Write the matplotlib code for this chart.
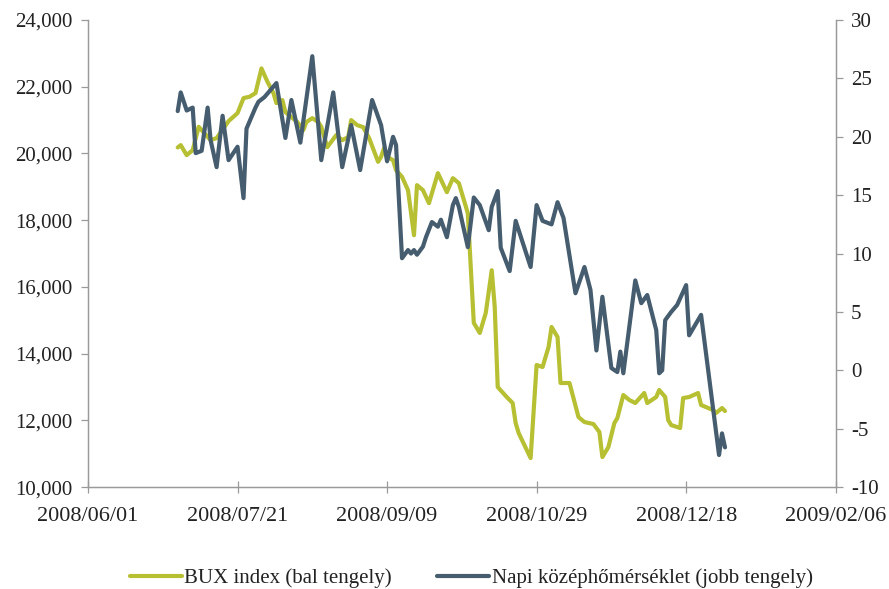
import matplotlib
matplotlib.use("Agg")
import matplotlib.pyplot as plt
import matplotlib.ticker as mticker
from datetime import datetime

# BUX index (left axis)
bux_dates = [
    "2008-07-01", "2008-07-02", "2008-07-04", "2008-07-06", "2008-07-08", "2008-07-12",
    "2008-07-14", "2008-07-18", "2008-07-21", "2008-07-23", "2008-07-25", "2008-07-27",
    "2008-07-29", "2008-07-31", "2008-08-02", "2008-08-03", "2008-08-05", "2008-08-06",
    "2008-08-08", "2008-08-10", "2008-08-12", "2008-08-13", "2008-08-15", "2008-08-17",
    "2008-08-18", "2008-08-20", "2008-08-21", "2008-08-23", "2008-08-25", "2008-08-27",
    "2008-08-28", "2008-08-30", "2008-09-01", "2008-09-03", "2008-09-06", "2008-09-07",
    "2008-09-08", "2008-09-09", "2008-09-11", "2008-09-12", "2008-09-14", "2008-09-16",
    "2008-09-18", "2008-09-19", "2008-09-21", "2008-09-23", "2008-09-26", "2008-09-29",
    "2008-10-01", "2008-10-03", "2008-10-04", "2008-10-06", "2008-10-08", "2008-10-10",
    "2008-10-12", "2008-10-14", "2008-10-15", "2008-10-16", "2008-10-19", "2008-10-21",
    "2008-10-22", "2008-10-23", "2008-10-27", "2008-10-29", "2008-10-31", "2008-11-02",
    "2008-11-03", "2008-11-05", "2008-11-06", "2008-11-09", "2008-11-12", "2008-11-14",
    "2008-11-17", "2008-11-19", "2008-11-20", "2008-11-22", "2008-11-24", "2008-11-25",
    "2008-11-27", "2008-11-29", "2008-12-01", "2008-12-04", "2008-12-05", "2008-12-08",
    "2008-12-09", "2008-12-11", "2008-12-12", "2008-12-13", "2008-12-16", "2008-12-17",
    "2008-12-19", "2008-12-22", "2008-12-23", "2008-12-27", "2008-12-28", "2008-12-30",
    "2008-12-31",
]
bux_values = [
    20180, 20250, 19950, 20100, 20800, 20400,
    20460, 20970, 21210, 21660, 21700, 21810,
    22550, 22150, 21810, 21510, 21600, 21240,
    21090, 20940, 20700, 20940, 21060, 20940,
    20800, 20190, 20310, 20550, 20400, 20490,
    21000, 20850, 20790, 20460, 19750, 19900,
    20160, 19900, 19800, 19500, 19300, 18900,
    17550, 19050, 18900, 18510, 19410, 18840,
    19260, 19110, 18810, 18210, 14920, 14620,
    15220, 16500, 15400, 13000, 12700, 12520,
    11920, 11620, 10870, 13660, 13600, 14200,
    14800, 14500, 13120, 13120, 12100, 11950,
    11890, 11650, 10900, 11200, 11920, 12070,
    12760, 12610, 12520, 12820, 12520, 12700,
    12910, 12700, 12010, 11860, 11770, 12670,
    12700, 12820, 12460, 12310, 12220, 12370,
    12280,
]

# Daily mean temperature (right axis)
temp_dates = [
    "2008-07-01", "2008-07-02", "2008-07-04", "2008-07-06", "2008-07-07", "2008-07-09",
    "2008-07-11", "2008-07-12", "2008-07-14", "2008-07-16", "2008-07-18", "2008-07-21",
    "2008-07-23", "2008-07-24", "2008-07-27", "2008-07-28", "2008-07-30", "2008-08-01",
    "2008-08-03", "2008-08-06", "2008-08-08", "2008-08-11", "2008-08-15", "2008-08-18",
    "2008-08-22", "2008-08-25", "2008-08-28", "2008-08-31", "2008-09-04", "2008-09-07",
    "2008-09-09", "2008-09-11", "2008-09-12", "2008-09-14", "2008-09-16", "2008-09-17",
    "2008-09-18", "2008-09-19", "2008-09-21", "2008-09-22", "2008-09-24", "2008-09-26",
    "2008-09-27", "2008-09-29", "2008-10-01", "2008-10-02", "2008-10-03", "2008-10-06",
    "2008-10-08", "2008-10-10", "2008-10-13", "2008-10-14", "2008-10-16", "2008-10-17",
    "2008-10-20", "2008-10-22", "2008-10-27", "2008-10-29", "2008-10-31", "2008-11-03",
    "2008-11-05", "2008-11-07", "2008-11-11", "2008-11-14", "2008-11-16", "2008-11-18",
    "2008-11-20", "2008-11-23", "2008-11-25", "2008-11-26", "2008-11-27", "2008-12-01",
    "2008-12-03", "2008-12-05", "2008-12-08", "2008-12-09", "2008-12-10", "2008-12-11",
    "2008-12-13", "2008-12-15", "2008-12-18", "2008-12-19", "2008-12-23", "2008-12-29",
    "2008-12-30", "2008-12-31",
]
temp_values = [
    22.2, 23.8, 22.25, 22.5, 18.6, 18.8,
    22.5, 19.7, 17.4, 21.8, 18.0, 19.15,
    14.75, 20.7, 22.5, 23.0, 23.4, 24.0,
    24.6, 19.9, 23.15, 19.5, 26.9, 18.0,
    23.8, 17.4, 21.0, 17.15, 23.15, 21.0,
    17.9, 20.0, 19.3, 9.6, 10.3, 10.0,
    10.3, 9.9, 10.6, 11.4, 12.7, 12.3,
    12.9, 11.4, 14.15, 14.75, 14.0, 10.55,
    14.8, 14.15, 12.0, 14.0, 15.35, 10.5,
    8.5, 12.8, 8.85, 14.15, 12.8, 12.5,
    14.4, 13.05, 6.6, 8.85, 6.9, 1.7,
    6.3, 0.2, -0.15, 1.6, -0.25, 7.7,
    5.75, 6.45, 3.45, -0.25, 0.0, 4.3,
    5.0, 5.6, 7.3, 3.0, 4.75, -7.25,
    -5.4, -6.6,
]

x_tick_labels = ["2008/06/01", "2008/07/21", "2008/09/09", "2008/10/29", "2008/12/18", "2009/02/06"]
left_ticks = [10000, 12000, 14000, 16000, 18000, 20000, 22000, 24000]
right_ticks = [-10, -5, 0, 5, 10, 15, 20, 25, 30]

GREEN = "#b7c032"
SLATE = "#465d6f"
TEXT = "#222222"
AXIS = "#9a9a9a"

plt.rcParams["font.family"] = ["Liberation Serif", "DejaVu Serif"]
plt.rcParams["axes.unicode_minus"] = False

fig = plt.figure(figsize=(8.89, 5.89), dpi=100)
ax = fig.add_axes([0.099, 0.173, 0.841, 0.793])
ax2 = ax.twinx()

bx = [datetime.strptime(d, "%Y-%m-%d") for d in bux_dates]
tx = [datetime.strptime(d, "%Y-%m-%d") for d in temp_dates]

l1, = ax.plot(bx, bux_values, color=GREEN, lw=3.0, solid_joinstyle="round",
              solid_capstyle="round", label="BUX index (bal tengely)", zorder=2)
l2, = ax2.plot(tx, temp_values, color=SLATE, lw=3.0, solid_joinstyle="round",
               solid_capstyle="round", label="Napi középhőmérséklet (jobb tengely)", zorder=3)

xt = [datetime.strptime(s, "%Y/%m/%d") for s in x_tick_labels]
ax.set_xlim(xt[0], xt[-1])
ax.set_xticks(xt)
ax.set_xticklabels(x_tick_labels)

ax.set_ylim(left_ticks[0], left_ticks[-1])
ax.set_yticks(left_ticks)
ax.yaxis.set_major_formatter(mticker.FuncFormatter(lambda v, p: f"{int(v):,}"))
ax2.set_ylim(right_ticks[0], right_ticks[-1])
ax2.set_yticks(right_ticks)
ax2.yaxis.set_major_formatter(mticker.FuncFormatter(lambda v, p: f"{int(v)}"))

for a in (ax, ax2):
    a.spines["top"].set_visible(False)
    for s in ("left", "right", "bottom"):
        a.spines[s].set_color(AXIS)
        a.spines[s].set_linewidth(0.9)
    a.tick_params(colors=AXIS, labelcolor=TEXT, labelsize=15, length=5, width=0.9)

ax.tick_params(axis="x", direction="inout", length=8, pad=10, labelsize=16)
ax.tick_params(axis="y", direction="out", pad=6)
ax2.tick_params(axis="y", direction="out", pad=6)

ax2.set_zorder(ax.get_zorder() + 1)
ax2.patch.set_visible(False)

fig.legend(handles=[l1, l2], loc="center", bbox_to_anchor=(0.53, 0.018), ncol=2,
           frameon=False, fontsize=15, handlelength=2.5, handletextpad=0.1,
           columnspacing=2.2, labelcolor=TEXT)

fig.savefig("out.png", dpi=100)
